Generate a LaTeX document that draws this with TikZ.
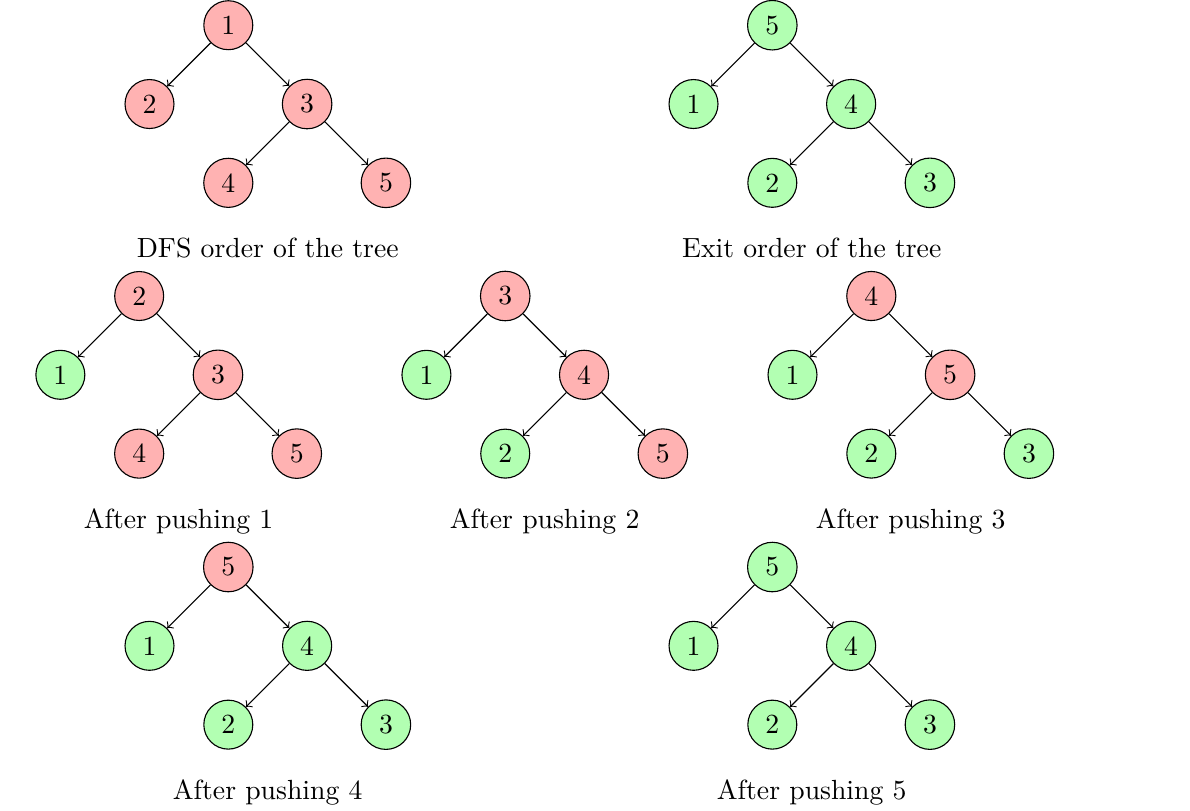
\documentclass[tikz,border=0pt]{standalone}
\usepackage{xcolor}
\usepackage{tikz}
\usetikzlibrary{arrows,positioning}

% a vertex stays red until its value has been pushed
\newcommand{\tnode}[4]{%
  \ifnum#3>#4\relax \node[todo,#2] (#1) {#3};%
  \else \node[done,#2] (#1) {#3};\fi}

% name, root position, values pushed so far, five values, caption
\newcommand{\bintree}[9]{%
  \tnode{#1r}{at={(#2)}}{#4}{#3}
  \tnode{#1a}{below left=1cm and 1cm of #1r}{#5}{#3}
  \tnode{#1b}{below right=1cm and 1cm of #1r}{#6}{#3}
  \tnode{#1c}{below left=1cm and 1cm of #1b}{#7}{#3}
  \tnode{#1d}{below right=1cm and 1cm of #1b}{#8}{#3}
  \draw[arrow] (#1r) -- (#1a);
  \draw[arrow] (#1r) -- (#1b);
  \draw[arrow] (#1b) -- (#1c);
  \draw[arrow] (#1b) -- (#1d);
  \node[caption, xshift=5mm, yshift=-2.95cm] (#1cap) at (#1r) {#9};}

\begin{document}
\begin{tikzpicture}[
    vertex/.style={circle, draw, on grid},
    todo/.style={vertex, fill=red!30},
    done/.style={vertex, fill=green!30},
    arrow/.style={->},
    caption/.style={anchor=base}
]
\useasboundingbox (0,0) rectangle (15.10,-10.28);

\bintree{dfs}{2.897,-0.320}{0}{1}{2}{3}{4}{5}{DFS order of the tree}
\bintree{exit}{9.800,-0.320}{5}{5}{1}{4}{2}{3}{Exit order of the tree}

\bintree{pa}{1.766,-3.756}{1}{2}{1}{3}{4}{5}{After pushing 1}
\bintree{pb}{6.411,-3.756}{2}{3}{1}{4}{2}{5}{After pushing 2}
\bintree{pc}{11.056,-3.756}{3}{4}{1}{5}{2}{3}{After pushing 3}

\bintree{pd}{2.897,-7.195}{4}{5}{1}{4}{2}{3}{After pushing 4}
\bintree{pe}{9.800,-7.195}{5}{5}{1}{4}{2}{3}{After pushing 5}

\end{tikzpicture}
\end{document}
